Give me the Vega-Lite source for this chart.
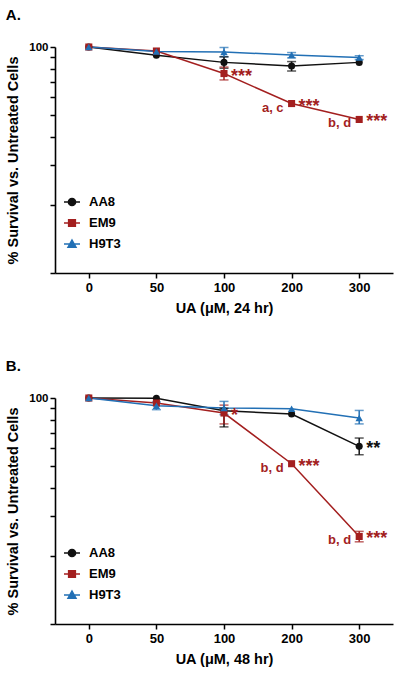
{
  "$schema": "https://vega.github.io/schema/vega-lite/v6.json",
  "padding": {"left": 5, "top": 8, "right": 3, "bottom": 3},
  "background": "white",
  "spacing": 44,
  "config": {
    "view": {"stroke": null},
    "font": "Liberation Sans",
    "axis": {
      "domainColor": "#000", "tickColor": "#000", "labelColor": "#000", "titleColor": "#000",
      "labelFont": "Liberation Sans", "titleFont": "Liberation Sans",
      "labelFontSize": 13, "titleFontSize": 14.5, "labelFontWeight": "bold", "titleFontWeight": "bold",
      "grid": false, "domainWidth": 1.6, "tickWidth": 1.5, "tickSize": 5
    },
    "title": {"font": "Liberation Sans", "fontSize": 15, "fontWeight": "bold", "anchor": "start", "frame": "bounds", "offset": 18, "color": "#000"}
  },
  "datasets": {
    "A": [
      {"UA": "0", "series": "AA8", "value": 100},
      {"UA": "50", "series": "AA8", "value": 91.9},
      {"UA": "100", "series": "AA8", "value": 85.5, "lo": 80.5, "hi": 90.5},
      {"UA": "200", "series": "AA8", "value": 82.4, "lo": 78.3, "hi": 86.2},
      {"UA": "300", "series": "AA8", "value": 85.5},
      {"UA": "0", "series": "EM9", "value": 100},
      {"UA": "50", "series": "EM9", "value": 96},
      {"UA": "100", "series": "EM9", "value": 76.3, "lo": 71.5, "hi": 81.5},
      {"UA": "200", "series": "EM9", "value": 56.2},
      {"UA": "300", "series": "EM9", "value": 47.8},
      {"UA": "0", "series": "H9T3", "value": 100},
      {"UA": "50", "series": "H9T3", "value": 95.5},
      {"UA": "100", "series": "H9T3", "value": 95, "lo": 90.5, "hi": 99.5},
      {"UA": "200", "series": "H9T3", "value": 92.2, "lo": 89.5, "hi": 94.5},
      {"UA": "300", "series": "H9T3", "value": 89.8, "lo": 88, "hi": 91.5}
    ],
    "B": [
      {"UA": "0", "series": "AA8", "value": 100},
      {"UA": "50", "series": "AA8", "value": 99.8},
      {"UA": "100", "series": "AA8", "value": 87.8, "lo": 74.5, "hi": 90},
      {"UA": "200", "series": "AA8", "value": 84.9},
      {"UA": "300", "series": "AA8", "value": 61.1, "lo": 56.1, "hi": 66.5},
      {"UA": "0", "series": "EM9", "value": 100},
      {"UA": "50", "series": "EM9", "value": 95},
      {"UA": "100", "series": "EM9", "value": 85.8, "lo": 76.8, "hi": 93},
      {"UA": "200", "series": "EM9", "value": 51.2},
      {"UA": "300", "series": "EM9", "value": 24.4, "lo": 23.1, "hi": 25.7},
      {"UA": "0", "series": "H9T3", "value": 100},
      {"UA": "50", "series": "H9T3", "value": 92.4, "lo": 88.8, "hi": 96},
      {"UA": "100", "series": "H9T3", "value": 90.3, "lo": 84.4, "hi": 96.6},
      {"UA": "200", "series": "H9T3", "value": 89.7},
      {"UA": "300", "series": "H9T3", "value": 81.5, "lo": 76.8, "hi": 88.1}
    ],
    "annA": [
      {"UA": "100", "series": "EM9", "value": 76.3, "label": "***", "side": "right"},
      {"UA": "200", "series": "EM9", "value": 56.2, "label": "***", "side": "right"},
      {"UA": "200", "series": "EM9", "value": 56.2, "label": "a, c", "side": "left"},
      {"UA": "300", "series": "EM9", "value": 47.8, "label": "***", "side": "right"},
      {"UA": "300", "series": "EM9", "value": 47.8, "label": "b, d", "side": "left"}
    ],
    "annB": [
      {"UA": "100", "series": "EM9", "value": 85.8, "label": "*", "side": "right"},
      {"UA": "200", "series": "EM9", "value": 51.2, "label": "***", "side": "right"},
      {"UA": "200", "series": "EM9", "value": 51.2, "label": "b, d", "side": "left"},
      {"UA": "300", "series": "EM9", "value": 24.4, "label": "***", "side": "right"},
      {"UA": "300", "series": "EM9", "value": 24.4, "label": "b, d", "side": "left"},
      {"UA": "300", "series": "AA8", "value": 61.1, "label": "**", "side": "right"}
    ]
  },
  "vconcat": [
    {
      "title": "A.",
      "width": 338,
      "height": 226,
      "data": {"name": "A"},
      "layer": [
        {
          "mark": {"type": "line", "strokeWidth": 1.5},
          "encoding": {
            "x": {"field": "UA", "type": "ordinal", "sort": ["0", "50", "100", "200", "300"],
                  "scale": {"type": "point", "padding": 0.5},
                  "axis": {"title": "UA (μM, 24 hr)", "labelAngle": 0, "labelPadding": 3, "titlePadding": 7}},
            "y": {"field": "value", "type": "quantitative", "title": "% Survival vs. Untreated Cells",
                  "scale": {"type": "log", "domain": [10, 100], "nice": false},
                  "axis": {"values": [10, 20, 30, 40, 50, 60, 70, 80, 90, 100], "labelFontSize": 11.5,
                           "labelExpr": "datum.value == 100 ? '100' : ''", "titlePadding": 8, "labelPadding": 2}},
            "color": {"field": "series", "type": "nominal",
                      "scale": {"domain": ["AA8", "EM9", "H9T3"], "range": ["#111111", "#A31F1F", "#2270B5"]},
                      "legend": {
                        "title": null, "orient": "none", "legendX": 8, "legendY": 146,
                        "labelFont": "Liberation Sans", "labelFontSize": 13, "labelFontWeight": "bold", "labelColor": "#000",
                        "symbolSize": 256, "symbolStrokeWidth": 1.5, "rowPadding": 5, "labelOffset": 8,
                        "encode": {"symbols": {"update": {
                          "shape": {"signal": "datum.value === 'AA8' ? 'M-1,0H1M-0.45,0A0.45,0.45,0,1,0,0.45,0A0.45,0.45,0,1,0,-0.45,0Z' : datum.value === 'EM9' ? 'M-1,0H1M-0.42,-0.42H0.42V0.42H-0.42Z' : 'M-1,0H1M0,-0.5L0.5,0.4H-0.5Z'"},
                          "fill": {"signal": "datum.value === 'AA8' ? '#111111' : datum.value === 'EM9' ? '#A31F1F' : '#2270B5'"},
                          "stroke": {"signal": "datum.value === 'AA8' ? '#111111' : datum.value === 'EM9' ? '#A31F1F' : '#2270B5'"},
                          "strokeWidth": {"value": 1.5},
                          "opacity": {"value": 1}
                        }}}
                      }}
          }
        },
        {
          "transform": [{"filter": "isValid(datum.lo)"}],
          "mark": {"type": "errorbar", "ticks": {"size": 9}, "thickness": 1.5},
          "encoding": {
            "x": {"field": "UA", "type": "ordinal", "sort": ["0", "50", "100", "200", "300"]},
            "y": {"field": "lo", "type": "quantitative", "title": "% Survival vs. Untreated Cells"},
            "y2": {"field": "hi"},
            "color": {"field": "series", "type": "nominal", "legend": null}
          }
        },
        {
          "transform": [{"filter": "datum.series == 'AA8'"}],
          "mark": {"type": "point", "filled": true, "opacity": 1, "size": 50, "shape": "circle"},
          "encoding": {
            "x": {"field": "UA", "type": "ordinal", "sort": ["0", "50", "100", "200", "300"]},
            "y": {"field": "value", "type": "quantitative"},
            "color": {"field": "series", "type": "nominal", "legend": null}
          }
        },
        {
          "transform": [{"filter": "datum.series == 'EM9'"}],
          "mark": {"type": "point", "filled": true, "opacity": 1, "size": 50, "shape": "square"},
          "encoding": {
            "x": {"field": "UA", "type": "ordinal", "sort": ["0", "50", "100", "200", "300"]},
            "y": {"field": "value", "type": "quantitative"},
            "color": {"field": "series", "type": "nominal", "legend": null}
          }
        },
        {
          "transform": [{"filter": "datum.series == 'H9T3'"}],
          "mark": {"type": "point", "filled": true, "opacity": 1, "size": 55, "shape": "triangle-up"},
          "encoding": {
            "x": {"field": "UA", "type": "ordinal", "sort": ["0", "50", "100", "200", "300"]},
            "y": {"field": "value", "type": "quantitative"},
            "color": {"field": "series", "type": "nominal", "legend": null}
          }
        },
        {
          "data": {"name": "annA"},
          "transform": [{"filter": "datum.side == 'right'"}],
          "mark": {"type": "text", "align": "left", "baseline": "alphabetic", "dx": 7, "dy": 8, "fontSize": 18, "fontWeight": "bold", "font": "Liberation Sans"},
          "encoding": {
            "x": {"field": "UA", "type": "ordinal", "sort": ["0", "50", "100", "200", "300"]},
            "y": {"field": "value", "type": "quantitative"},
            "text": {"field": "label"},
            "color": {"field": "series", "type": "nominal", "legend": null}
          }
        },
        {
          "data": {"name": "annA"},
          "transform": [{"filter": "datum.side == 'left'"}],
          "mark": {"type": "text", "align": "right", "baseline": "alphabetic", "dx": -8, "dy": 8, "fontSize": 13, "fontWeight": "bold", "font": "Liberation Sans"},
          "encoding": {
            "x": {"field": "UA", "type": "ordinal", "sort": ["0", "50", "100", "200", "300"]},
            "y": {"field": "value", "type": "quantitative"},
            "text": {"field": "label"},
            "color": {"field": "series", "type": "nominal", "legend": null}
          }
        }
      ]
    },
    {
      "title": "B.",
      "width": 338,
      "height": 226,
      "data": {"name": "B"},
      "layer": [
        {
          "mark": {"type": "line", "strokeWidth": 1.5},
          "encoding": {
            "x": {"field": "UA", "type": "ordinal", "sort": ["0", "50", "100", "200", "300"],
                  "scale": {"type": "point", "padding": 0.5},
                  "axis": {"title": "UA (μM, 48 hr)", "labelAngle": 0, "labelPadding": 3, "titlePadding": 7}},
            "y": {"field": "value", "type": "quantitative", "title": "% Survival vs. Untreated Cells",
                  "scale": {"type": "log", "domain": [10, 100], "nice": false},
                  "axis": {"values": [10, 20, 30, 40, 50, 60, 70, 80, 90, 100], "labelFontSize": 11.5,
                           "labelExpr": "datum.value == 100 ? '100' : ''", "titlePadding": 8, "labelPadding": 2}},
            "color": {"field": "series", "type": "nominal",
                      "scale": {"domain": ["AA8", "EM9", "H9T3"], "range": ["#111111", "#A31F1F", "#2270B5"]},
                      "legend": {
                        "title": null, "orient": "none", "legendX": 8, "legendY": 146,
                        "labelFont": "Liberation Sans", "labelFontSize": 13, "labelFontWeight": "bold", "labelColor": "#000",
                        "symbolSize": 256, "symbolStrokeWidth": 1.5, "rowPadding": 5, "labelOffset": 8,
                        "encode": {"symbols": {"update": {
                          "shape": {"signal": "datum.value === 'AA8' ? 'M-1,0H1M-0.45,0A0.45,0.45,0,1,0,0.45,0A0.45,0.45,0,1,0,-0.45,0Z' : datum.value === 'EM9' ? 'M-1,0H1M-0.42,-0.42H0.42V0.42H-0.42Z' : 'M-1,0H1M0,-0.5L0.5,0.4H-0.5Z'"},
                          "fill": {"signal": "datum.value === 'AA8' ? '#111111' : datum.value === 'EM9' ? '#A31F1F' : '#2270B5'"},
                          "stroke": {"signal": "datum.value === 'AA8' ? '#111111' : datum.value === 'EM9' ? '#A31F1F' : '#2270B5'"},
                          "strokeWidth": {"value": 1.5},
                          "opacity": {"value": 1}
                        }}}
                      }}
          }
        },
        {
          "transform": [{"filter": "isValid(datum.lo)"}],
          "mark": {"type": "errorbar", "ticks": {"size": 9}, "thickness": 1.5},
          "encoding": {
            "x": {"field": "UA", "type": "ordinal", "sort": ["0", "50", "100", "200", "300"]},
            "y": {"field": "lo", "type": "quantitative", "title": "% Survival vs. Untreated Cells"},
            "y2": {"field": "hi"},
            "color": {"field": "series", "type": "nominal", "legend": null}
          }
        },
        {
          "transform": [{"filter": "datum.series == 'AA8'"}],
          "mark": {"type": "point", "filled": true, "opacity": 1, "size": 50, "shape": "circle"},
          "encoding": {
            "x": {"field": "UA", "type": "ordinal", "sort": ["0", "50", "100", "200", "300"]},
            "y": {"field": "value", "type": "quantitative"},
            "color": {"field": "series", "type": "nominal", "legend": null}
          }
        },
        {
          "transform": [{"filter": "datum.series == 'EM9'"}],
          "mark": {"type": "point", "filled": true, "opacity": 1, "size": 50, "shape": "square"},
          "encoding": {
            "x": {"field": "UA", "type": "ordinal", "sort": ["0", "50", "100", "200", "300"]},
            "y": {"field": "value", "type": "quantitative"},
            "color": {"field": "series", "type": "nominal", "legend": null}
          }
        },
        {
          "transform": [{"filter": "datum.series == 'H9T3'"}],
          "mark": {"type": "point", "filled": true, "opacity": 1, "size": 55, "shape": "triangle-up"},
          "encoding": {
            "x": {"field": "UA", "type": "ordinal", "sort": ["0", "50", "100", "200", "300"]},
            "y": {"field": "value", "type": "quantitative"},
            "color": {"field": "series", "type": "nominal", "legend": null}
          }
        },
        {
          "data": {"name": "annB"},
          "transform": [{"filter": "datum.side == 'right'"}],
          "mark": {"type": "text", "align": "left", "baseline": "alphabetic", "dx": 7, "dy": 8, "fontSize": 18, "fontWeight": "bold", "font": "Liberation Sans"},
          "encoding": {
            "x": {"field": "UA", "type": "ordinal", "sort": ["0", "50", "100", "200", "300"]},
            "y": {"field": "value", "type": "quantitative"},
            "text": {"field": "label"},
            "color": {"field": "series", "type": "nominal", "legend": null}
          }
        },
        {
          "data": {"name": "annB"},
          "transform": [{"filter": "datum.side == 'left'"}],
          "mark": {"type": "text", "align": "right", "baseline": "alphabetic", "dx": -8, "dy": 8, "fontSize": 13, "fontWeight": "bold", "font": "Liberation Sans"},
          "encoding": {
            "x": {"field": "UA", "type": "ordinal", "sort": ["0", "50", "100", "200", "300"]},
            "y": {"field": "value", "type": "quantitative"},
            "text": {"field": "label"},
            "color": {"field": "series", "type": "nominal", "legend": null}
          }
        }
      ]
    }
  ],
  "resolve": {"scale": {"color": "independent", "x": "independent", "y": "independent"}, "legend": {"color": "independent"}}
}
